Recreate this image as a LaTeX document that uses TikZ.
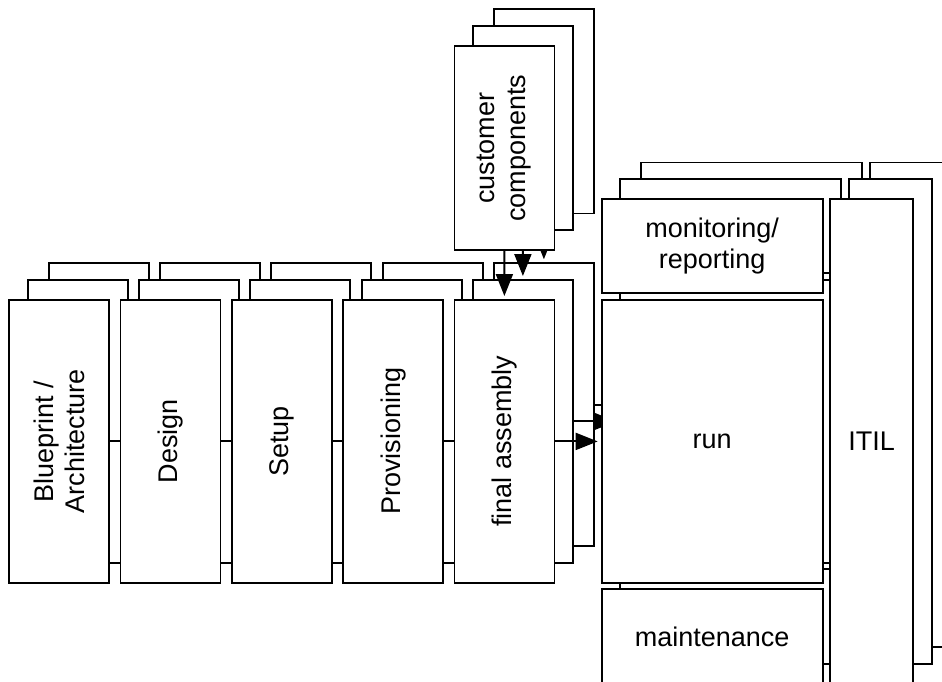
\documentclass[tikz,border=0pt]{standalone}
\usepackage{fontspec}
\setmainfont{Liberation Sans}
\usetikzlibrary{arrows.meta}

\tikzset{
  stackbox/.style={draw, fill=white, line width=1.8pt, inner sep=0pt, anchor=north west},
  boxtext/.style={font=\fontsize{27}{31}\selectfont, align=center, inner sep=0pt},
  chainline/.style={draw, line width=2pt},
  flow/.style={draw, line width=2pt, -{Triangle[length=22pt,width=17pt]}, shorten >=3pt},
}

\begin{document}
\begin{tikzpicture}[x=1pt, y=-1pt]
            \useasboundingbox (0,0) rectangle (942,681);
            \clip (0,0) rectangle (942,681);
            \pgfmathsetmacro{\pitch}{111.3}
            \foreach \k/\ox/\oy in {2/39.5/36.7, 1/18.5/20, 0/0/0} {
                \foreach \name [count=\i from 0] in {blue, design, setup, prov, fa}
                    \node[stackbox, minimum width=100pt, minimum height=283pt] (\name-\k) at ({8.3+\i*\pitch+\ox}, {299-\oy}) {};
                \node[stackbox, minimum width=100pt, minimum height=204.3pt] (cust-\k) at ({453.5+\ox}, {45-\oy}) {};
                \foreach \name/\by/\bh in {mon/198.3/93.4, run/299.3/282.4, maint/588.3/94.4}
                    \node[stackbox, minimum width=221pt, minimum height=\bh pt] (\name-\k) at ({600.7+\ox}, {\by-\oy}) {};
                \node[stackbox, minimum width=83pt, minimum height=484.4pt] (itil-\k) at ({829.3+\ox}, {198.3-\oy}) {};
                \path[chainline] (blue-\k) -- (design-\k);
                \path[chainline] (design-\k) -- (setup-\k);
                \path[chainline] (setup-\k) -- (prov-\k);
                \path[chainline] (prov-\k) -- (fa-\k);
                \path[flow] (cust-\k) -- (fa-\k);
                \path[flow] (fa-\k) -- (run-\k);
            }
            \node[boxtext, rotate=90] (blue-text) at (blue-0.center) {Blueprint /\\Architecture};
            \node[boxtext, rotate=90] (design-text) at (design-0.center) {Design};
            \node[boxtext, rotate=90] (setup-text) at (setup-0.center) {Setup};
            \node[boxtext, rotate=90] (prov-text) at (prov-0.center) {Provisioning};
            \node[boxtext, rotate=90] (fa-text) at (fa-0.center) {final assembly};
            \node[boxtext, rotate=90] (cust-text) at (cust-0.center) {customer\\components};
            \node[boxtext] (mon-text) at (mon-0.center) {monitoring/\\reporting};
            \node[boxtext] (run-text) at (run-0.center) {run};
            \node[boxtext] (maint-text) at (maint-0.center) {maintenance};
            \node[boxtext] (itil-text) at (itil-0.center) {ITIL};
\end{tikzpicture}
\end{document}
